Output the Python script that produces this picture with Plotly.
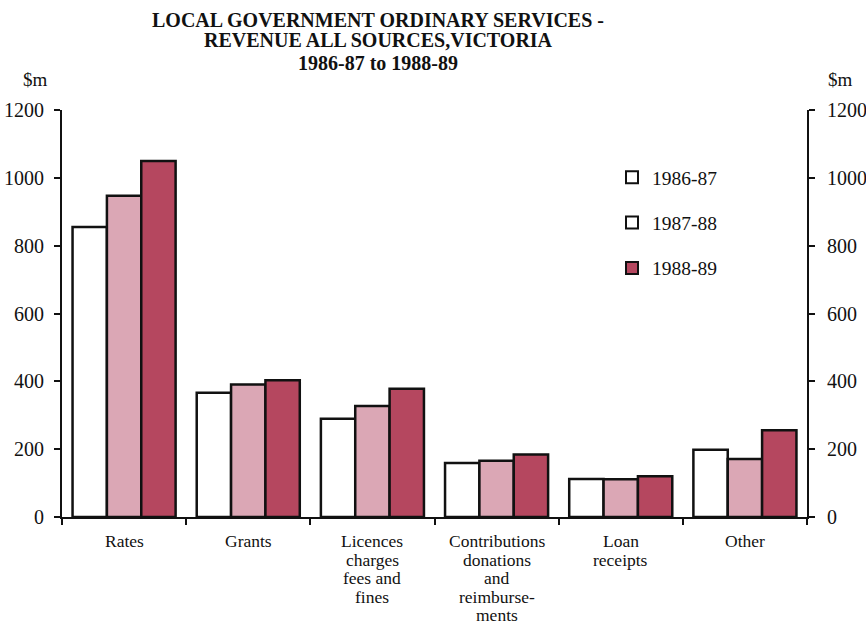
import plotly.graph_objects as go

categories = ["Rates", "Grants", "Licences charges fees and fines",
              "Contributions donations and reimbursements",
              "Loan receipts", "Other"]
category_label_lines = [["Rates"], ["Grants"], ["Licences", "charges", "fees and", "fines"],
                        ["Contributions", "donations", "and", "reimburse-", "ments"],
                        ["Loan", "receipts"], ["Other"]]
v_1986_87 = [855, 366, 290, 159, 112, 198]
v_1987_88 = [947, 391, 327, 166, 111, 171]
v_1988_89 = [1050, 403, 378, 184, 120, 256]
series_names = ["1986-87", "1987-88", "1988-89"]
bar_colors = ["#ffffff", "#dba7b5", "#b5475f"]
legend_colors = ["#ffffff", "#ffffff", "#b5475f"]
y_ticks = [0, 200, 400, 600, 800, 1000, 1200]
title_lines = ["LOCAL GOVERNMENT ORDINARY SERVICES -",
               "REVENUE ALL SOURCES,VICTORIA",
               "1986-87 to 1988-89"]

FONT = "Liberation Serif, Times New Roman, serif"
W, H = 866, 627
ML, MR, MT, MB = 62, 59, 110, 110
PW, PH = W - ML - MR, H - MT - MB


def px2paper(px, py):
    return (px - ML) / PW, (H - MB - py) / PH


fig = go.Figure()
for name, vals, col in zip(series_names, [v_1986_87, v_1987_88, v_1988_89], bar_colors):
    fig.add_trace(go.Bar(x=categories, y=vals, name=name, showlegend=False,
                         marker=dict(color=col, line=dict(color="#111111", width=2.5))))

for i, (name, col) in enumerate(zip(series_names, legend_colors)):
    fig.add_trace(go.Scatter(x=[None], y=[None], mode="markers", name=name,
                             legendgroup=f"g{i}",
                             marker=dict(symbol="square", size=12, color=col,
                                         line=dict(color="#111111", width=2))))
fig.add_trace(go.Scatter(x=[None], y=[None], yaxis="y2", showlegend=False, hoverinfo="skip"))

lx, ly = px2paper(612, 158)
fig.update_layout(
    width=W, height=H,
    margin=dict(l=ML, r=MR, t=MT, b=MB, autoexpand=False),
    paper_bgcolor="white", plot_bgcolor="white",
    barmode="group", bargap=0.17, bargroupgap=0,
    font=dict(family=FONT, size=19, color="#111111"),
    legend=dict(x=lx, y=ly, xanchor="left", yanchor="top",
                font=dict(family=FONT, size=19.5), tracegroupgap=17,
                bgcolor="rgba(0,0,0,0)", itemwidth=30),
    xaxis=dict(showline=True, linecolor="#111111", linewidth=2, automargin=False,
               ticks="outside", tickson="boundaries", ticklen=6, tickwidth=1.5,
               tickcolor="#111111", showgrid=False, showticklabels=False),
    yaxis=dict(range=[0, 1200], tickvals=y_ticks, showline=True, linecolor="#111111",
               linewidth=2, ticks="outside", ticklen=6, tickwidth=2, tickcolor="#111111",
               showgrid=False, zeroline=False, tickfont=dict(size=20), ticklabelstandoff=6,
               automargin=False),
    yaxis2=dict(range=[0, 1200], tickvals=y_ticks, overlaying="y", side="right",
                showline=True, linecolor="#111111", linewidth=2, ticks="outside",
                ticklen=6, tickwidth=2, tickcolor="#111111", showgrid=False,
                zeroline=False, tickfont=dict(size=20), ticklabelstandoff=8,
                automargin=False),
)

# title lines
for line, cy in zip(title_lines, (20, 40, 63)):
    tx, ty = px2paper(378, cy)
    fig.add_annotation(text=f"<b>{line}</b>", x=tx, y=ty, xref="paper", yref="paper",
                       xanchor="center", yanchor="middle", showarrow=False,
                       font=dict(family=FONT, size=20, color="#111111"))

# $m unit labels
for px in (35, 840):
    ux, uy = px2paper(px, 80)
    fig.add_annotation(text="$m", x=ux, y=uy, xref="paper", yref="paper",
                       xanchor="center", yanchor="middle", showarrow=False,
                       font=dict(family=FONT, size=19))

# category labels (line by line)
for cat, lines in zip(categories, category_label_lines):
    for j, line in enumerate(lines):
        _, cy = px2paper(0, 541 + 18.5 * j)
        fig.add_annotation(text=line, x=cat, y=cy, xref="x", yref="paper",
                           xanchor="center", yanchor="middle", showarrow=False,
                           font=dict(family=FONT, size=17.5))

fig.write_html("out.html")
